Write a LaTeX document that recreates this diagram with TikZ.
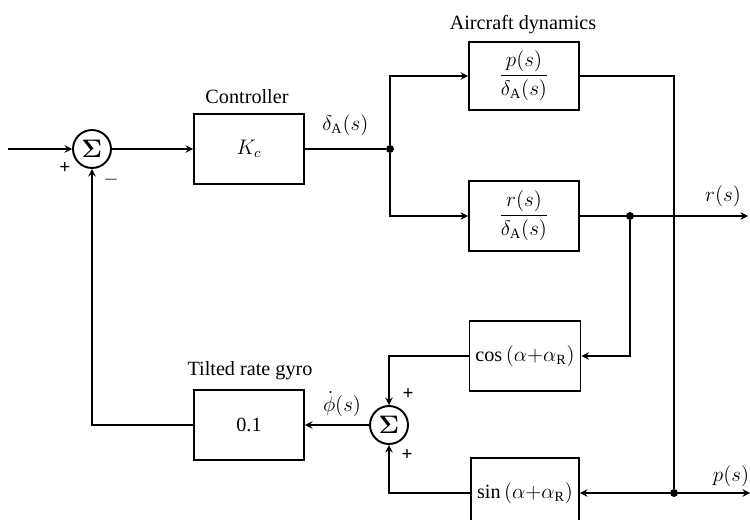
\documentclass[tikz,border=0pt]{standalone}
\usepackage{amsmath}
\usepackage{fontspec}
\setmainfont{Liberation Serif}
\usetikzlibrary{arrows, positioning, calc}
\tikzset{
  bloque/.style={rectangle, draw=black, line width=1.1pt, minimum width=2.2cm, minimum height=1.4cm,
                 text centered, font=\fontsize{11.5}{13}\selectfont, align=center},
  suma/.style={circle, draw=black, line width=1.1pt, minimum size=0.76cm, inner sep=0pt,
               font=\fontsize{15}{17}\selectfont},
  flecha/.style={line width=0.9pt,->,>=stealth},
  linea/.style={line width=0.9pt},
  punto/.style={circle, fill=black, inner sep=0pt, minimum size=4.5pt},
  etiq/.style={font=\fontsize{11.5}{13}\selectfont},
  signo/.style={font=\fontsize{11}{13}\selectfont\bfseries}
}
\begin{document}
\begin{tikzpicture}[x=0.02cm, y=-0.02cm]
  \useasboundingbox (0,0) rectangle (750,520);
  \coordinate (entrada) at (8,149);
  \node (s1) [suma] at (92,149) {$\boldsymbol{\Sigma}$};
  \node (ctrl) [bloque] at (249,149) {$K_c$};
  \node [etiq] at (247,97) {Controller};
  \node (j1) [punto] at (390,149) {};
  \node (pbox) [bloque, minimum height=1.36cm] at (524,76) {$\dfrac{p(s)}{\delta_{\mathrm{A}}(s)}$};
  \node [etiq] at (523,25) {Aircraft dynamics};
  \node (rbox) [bloque] at (524,216) {$\dfrac{r(s)}{\delta_{\mathrm{A}}(s)}$};
  \node (j2) [punto] at (630,216) {};
  \coordinate (rsal) at (748,216);
  \node [etiq] at (723,196) {$r(s)$};
  \node (cosb) [bloque, minimum width=2.16cm] at (525,356) {$\cos\,(\alpha{+}\alpha_{\mathrm{R}})$};
  \node (sinb) [bloque, minimum width=2.16cm] at (525,493) {$\sin\,(\alpha{+}\alpha_{\mathrm{R}})$};
  \node (j3) [punto] at (674,493) {};
  \coordinate (psal) at (750,493);
  \node [etiq] at (731,476) {$p(s)$};
  \node (s2) [suma] at (389,425) {$\boldsymbol{\Sigma}$};
  \node (gyro) [bloque] at (249,425) {0.1};
  \node [etiq] at (250,371) {Tilted rate gyro};
  \node [etiq] at (342,404) {$\dot{\phi}(s)$};
  \node [signo] at (65,168) {+};
  \node [signo] at (111,180) {$-$};
  \node [signo] at (408,394) {+};
  \node [signo] at (407,455) {+};
  \draw [flecha] (entrada) -- (s1);
  \draw [flecha] (s1) -- (ctrl);
  \draw [linea] (ctrl) -- (j1) node[etiq, midway, above=4pt] {$\delta_{\mathrm{A}}(s)$};
  \draw [flecha] (j1) |- (pbox);
  \draw [flecha] (j1) |- (rbox);
  \draw [flecha] (rbox) -- (rsal);
  \draw [flecha] (j2) |- (cosb.east);
  \draw [flecha] (cosb.west) -| (s2.north);
  \draw [linea] (pbox.east) -| (j3);
  \draw [flecha] (j3) -- (psal);
  \draw [flecha] (j3) -- (sinb.east);
  \draw [flecha] (sinb.west) -| (s2.south);
  \draw [flecha] (s2) -- (gyro);
  \draw [flecha] (gyro.west) -| (s1.south);
\end{tikzpicture}
\end{document}
